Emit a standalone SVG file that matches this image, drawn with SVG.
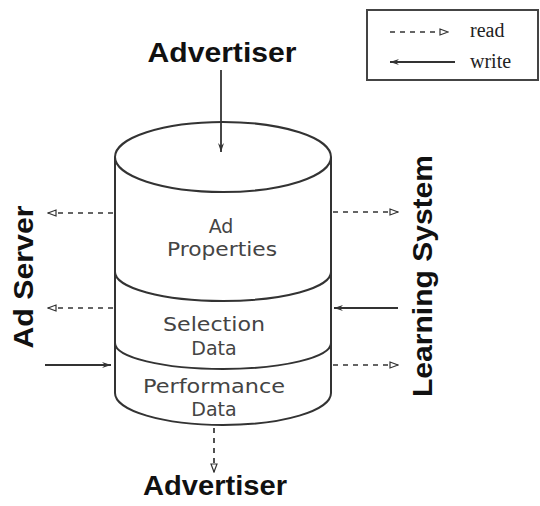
<svg xmlns="http://www.w3.org/2000/svg" width="540" height="506" viewBox="0 0 540 506">
<style>
.bold{font-family:"Liberation Sans",Arial,sans-serif;font-weight:bold;font-size:27px;fill:#111}
.lbl{font-family:"DejaVu Sans","Liberation Sans",sans-serif;font-size:19px;fill:#444;text-anchor:middle}
.leg{font-family:"Liberation Serif","Times New Roman",serif;font-size:20px;fill:#222}
.cyl{fill:none;stroke:#333;stroke-width:2}
.rd{stroke:#333;stroke-width:1.7;stroke-dasharray:5,5;fill:none}
.wr{stroke:#333;stroke-width:1.8;fill:none}
</style>
<defs>
<marker id="ar" viewBox="0 0 10 8" refX="9" refY="4" markerWidth="10" markerHeight="8" markerUnits="userSpaceOnUse" orient="auto">
<path d="M1,1 L9,4 L1,7 Z" fill="#fff" stroke="#333" stroke-width="1.2"/>
</marker>
<marker id="aw" viewBox="0 0 10 8" refX="9" refY="4" markerWidth="10" markerHeight="8" markerUnits="userSpaceOnUse" orient="auto">
<path d="M0,1 L9,4 L0,7 L3,4 Z" fill="#333"/>
</marker>
</defs>
<g id="legend">
<rect x="367" y="10" width="171" height="70" fill="#fff" stroke="#444" stroke-width="2"/>
<line x1="390" y1="32" x2="448" y2="32" class="rd" marker-end="url(#ar)"/>
<text x="470" y="37" class="leg">read</text>
<line x1="455" y1="62" x2="390" y2="62" class="wr" marker-end="url(#aw)"/>
<text x="470" y="68" class="leg">write</text>
</g>
<g id="database">
<path class="cyl" d="M115,157 L115,393 A108,32 0 0 0 331,393 L331,157"/>
<ellipse class="cyl" cx="223" cy="157" rx="108" ry="35" fill="#fff"/>
<path class="cyl" d="M115,272 A108,29 0 0 0 331,272"/>
<path class="cyl" d="M115,343 A108,26 0 0 0 331,343"/>
</g>
<g id="ad-properties">
<text x="221" y="233" class="lbl">Ad</text>
<text x="222" y="256" class="lbl" textLength="110" lengthAdjust="spacingAndGlyphs">Properties</text>
</g>
<g id="selection-data">
<text x="214" y="331" class="lbl" textLength="102" lengthAdjust="spacingAndGlyphs">Selection</text>
<text x="214" y="355" class="lbl">Data</text>
</g>
<g id="performance-data">
<text x="214" y="393" class="lbl" textLength="142" lengthAdjust="spacingAndGlyphs">Performance</text>
<text x="214" y="416" class="lbl">Data</text>
</g>
<g id="advertiser-top">
<text x="222" y="62" class="bold" text-anchor="middle" textLength="149" lengthAdjust="spacingAndGlyphs">Advertiser</text>
</g>
<g id="advertiser-bottom">
<text x="215" y="495" class="bold" text-anchor="middle" textLength="144" lengthAdjust="spacingAndGlyphs">Advertiser</text>
</g>
<g id="ad-server">
<text transform="translate(33,277) rotate(-90)" class="bold" text-anchor="middle" textLength="143" lengthAdjust="spacingAndGlyphs">Ad Server</text>
</g>
<g id="learning-system">
<text transform="translate(432,276) rotate(-90)" class="bold" text-anchor="middle" textLength="242" lengthAdjust="spacingAndGlyphs">Learning System</text>
</g>
<g id="connectors">
<line x1="221" y1="70" x2="221" y2="152" class="wr" marker-end="url(#aw)"/>
<line x1="214" y1="428" x2="214" y2="472" class="rd" marker-end="url(#ar)"/>
<line x1="113" y1="213" x2="48" y2="213" class="rd" marker-end="url(#ar)"/>
<line x1="113" y1="308" x2="48" y2="308" class="rd" marker-end="url(#ar)"/>
<line x1="45" y1="365" x2="111" y2="365" class="wr" marker-end="url(#aw)"/>
<line x1="333" y1="212" x2="398" y2="212" class="rd" marker-end="url(#ar)"/>
<line x1="398" y1="308" x2="334" y2="308" class="wr" marker-end="url(#aw)"/>
<line x1="333" y1="365" x2="398" y2="365" class="rd" marker-end="url(#ar)"/>
</g>
</svg>
